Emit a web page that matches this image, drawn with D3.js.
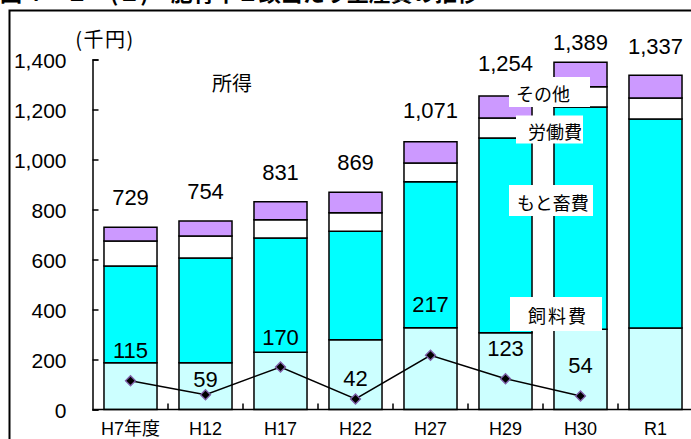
<!DOCTYPE html>
<html><head><meta charset="utf-8">
<script src="https://cdn.jsdelivr.net/npm/d3@7"></script>
<style>
html,body{margin:0;padding:0;background:#fff;overflow:hidden}
svg{display:block}
text{font-family:"Liberation Sans",Arial,"Noto Sans CJK JP",sans-serif;fill:#000}
.jp{font-family:"Noto Sans CJK JP","Liberation Sans",sans-serif}
</style></head><body>
<svg id="chart" width="691" height="439"></svg>
<script>
// ---- data ----
const categories = ["H7年度","H12","H17","H22","H27","H29","H30","R1"];
const feedCost   = [187,187,229,279,327,307,321,326];   // 飼料費
const cattleCost = [387,419,457,434,584,779,889,836];   // もと畜費
const laborCost  = [100, 88, 73, 74, 75, 80, 81, 84];   // 労働費
const otherCost  = [ 55, 60, 72, 82, 85, 88, 98, 91];   // その他
const totals     = [729,754,831,869,1071,1254,1389,1337];
const income     = [115, 59,170, 42,217,123, 54,null];  // 所得
const yTicks     = [0,200,400,600,800,1000,1200,1400];
const seriesNames = ["飼料費","もと畜費","労働費","その他"];
const seriesKeys  = ["feed","cattle","labor","other"];

// ---- layout constants ----
const totalLabelGap  = [22,22,22,22,24,25,12,21];
const incomeLabelGap = [23,8,22,13,43,23,23,0];
const colors = {feed:"#CCFFFF", cattle:"#00FFFF", labor:"#FFFFFF", other:"#CC99FF"};

const svg = d3.select("#chart");

// title (cut off at top, as in the source)
svg.append("text").attr("class","jp").attr("x",0).attr("y",0.5)
  .attr("font-size",22).attr("font-weight","bold")
  .text("図４－２－(１)　肥育牛１頭当たり生産費の推移");

// frame
svg.append("rect").attr("x",9.5).attr("y",10.5).attr("width",720).attr("height",460)
  .attr("fill","none").attr("stroke","#000").attr("stroke-width",2);

const x = d3.scaleBand().domain(categories).range([93,693]).paddingInner(0.293).paddingOuter(0.1465);
const y = d3.scaleLinear().domain([0,1400]).range([409.5,59.5]);

const table = categories.map((c,i)=>({cat:c, feed:feedCost[i], cattle:cattleCost[i], labor:laborCost[i], other:otherCost[i]}));
const stacked = d3.stack().keys(seriesKeys)(table);

// bars
const g = svg.append("g");
stacked.forEach(layer=>{
  g.selectAll(null).data(layer).enter().append("rect")
    .attr("x",d=>x(d.data.cat)).attr("width",x.bandwidth())
    .attr("y",d=>y(d[1])).attr("height",d=>y(d[0])-y(d[1]))
    .attr("fill",colors[layer.key]).attr("stroke","#000").attr("stroke-width",1.5);
});

// y axis
const yAxis = d3.axisLeft(y).tickValues(yTicks).tickFormat(d3.format(","))
  .tickSizeInner(-6).tickSizeOuter(-6).tickPadding(26);
const ya = svg.append("g").attr("transform","translate(92.5,0)").call(yAxis);
ya.selectAll("path,line").attr("stroke","#000").attr("stroke-width",1.5);
ya.selectAll("text").attr("font-size",21).attr("dy","0.4em")
  .style("font-family","'Liberation Sans',Arial,sans-serif");

// x axis
const xa = svg.append("g");
xa.append("line").attr("x1",92.5).attr("x2",700).attr("y1",y(0)).attr("y2",y(0))
  .attr("stroke","#000").attr("stroke-width",1.5);
const step = x.step();
xa.selectAll("line.tk").data(categories).enter().append("line").attr("class","tk")
  .attr("x1",d=>x(d)+x.bandwidth()+ (step-x.bandwidth())/2)
  .attr("x2",d=>x(d)+x.bandwidth()+ (step-x.bandwidth())/2)
  .attr("y1",y(0)).attr("y2",y(0)-6).attr("stroke","#000").attr("stroke-width",1.5);
xa.selectAll("text").data(categories).enter().append("text")
  .attr("x",d=>x(d)+x.bandwidth()/2).attr("y",435).attr("text-anchor","middle")
  .attr("font-size",18).text(d=>d);

// total labels
svg.selectAll("text.tot").data(totals).enter().append("text").attr("class","tot")
  .attr("x",(d,i)=>x(categories[i])+x.bandwidth()/2)
  .attr("y",(d,i)=>y(d)-totalLabelGap[i]).attr("text-anchor","middle")
  .attr("font-size",22).text(d=>d3.format(",")(d));

// income line
const pts = income.map((v,i)=>({cat:categories[i], v})).filter(d=>d.v!=null);
svg.append("path").datum(pts)
  .attr("d",d3.line().x(d=>x(d.cat)+x.bandwidth()/2).y(d=>y(d.v)))
  .attr("fill","none").attr("stroke","#000").attr("stroke-width",1.5);
svg.selectAll("path.mk").data(pts).enter().append("path").attr("class","mk")
  .attr("d",d3.symbol(d3.symbolSquare,50))
  .attr("transform",d=>`translate(${x(d.cat)+x.bandwidth()/2},${y(d.v)}) rotate(45)`)
  .attr("fill","#000").attr("stroke","#7F5FA8").attr("stroke-width",1.3);
svg.selectAll("text.inc").data(pts).enter().append("text").attr("class","inc")
  .attr("x",d=>x(d.cat)+x.bandwidth()/2)
  .attr("y",(d,i)=>y(d.v)-incomeLabelGap[i]).attr("text-anchor","middle")
  .attr("font-size",22).text(d=>d.v);

// unit label & 所得 label
svg.append("text").attr("class","jp").attr("x",105).attr("y",38).attr("text-anchor","middle")
  .attr("dominant-baseline","central").attr("font-size",20).attr("letter-spacing",1.5).text("(千円)");
svg.append("text").attr("class","jp").attr("x",232).attr("y",82.5).attr("text-anchor","middle")
  .attr("dominant-baseline","central").attr("font-size",20).text("所得");

// series labels in white boxes (positioned relative to H29/H30 boundary)
const bx = x("H30") - (step-x.bandwidth())/2;
const boxes = [
  {name:seriesNames[3], v:1270, left:-34, w:81, h:30, tx:-27, ls:0},
  {name:seriesNames[2], v:1120, left:-27, w:67, h:28, tx:-15, ls:0},
  {name:seriesNames[1], v:836,  left:-34, w:84, h:31, tx:-26, ls:0},
  {name:seriesNames[0], v:382,  left:-33, w:92, h:34, tx:-15, ls:2}
];
boxes.forEach(b=>{
  const cy = y(b.v);
  svg.append("rect").attr("x",bx+b.left).attr("y",cy-b.h/2).attr("width",b.w).attr("height",b.h)
    .attr("fill","#fff");
  svg.append("text").attr("class","jp").attr("x",bx+b.tx).attr("y",cy+1)
    .attr("dominant-baseline","central").attr("font-size",18).attr("letter-spacing",b.ls).text(b.name);
});
</script>
</body></html>
